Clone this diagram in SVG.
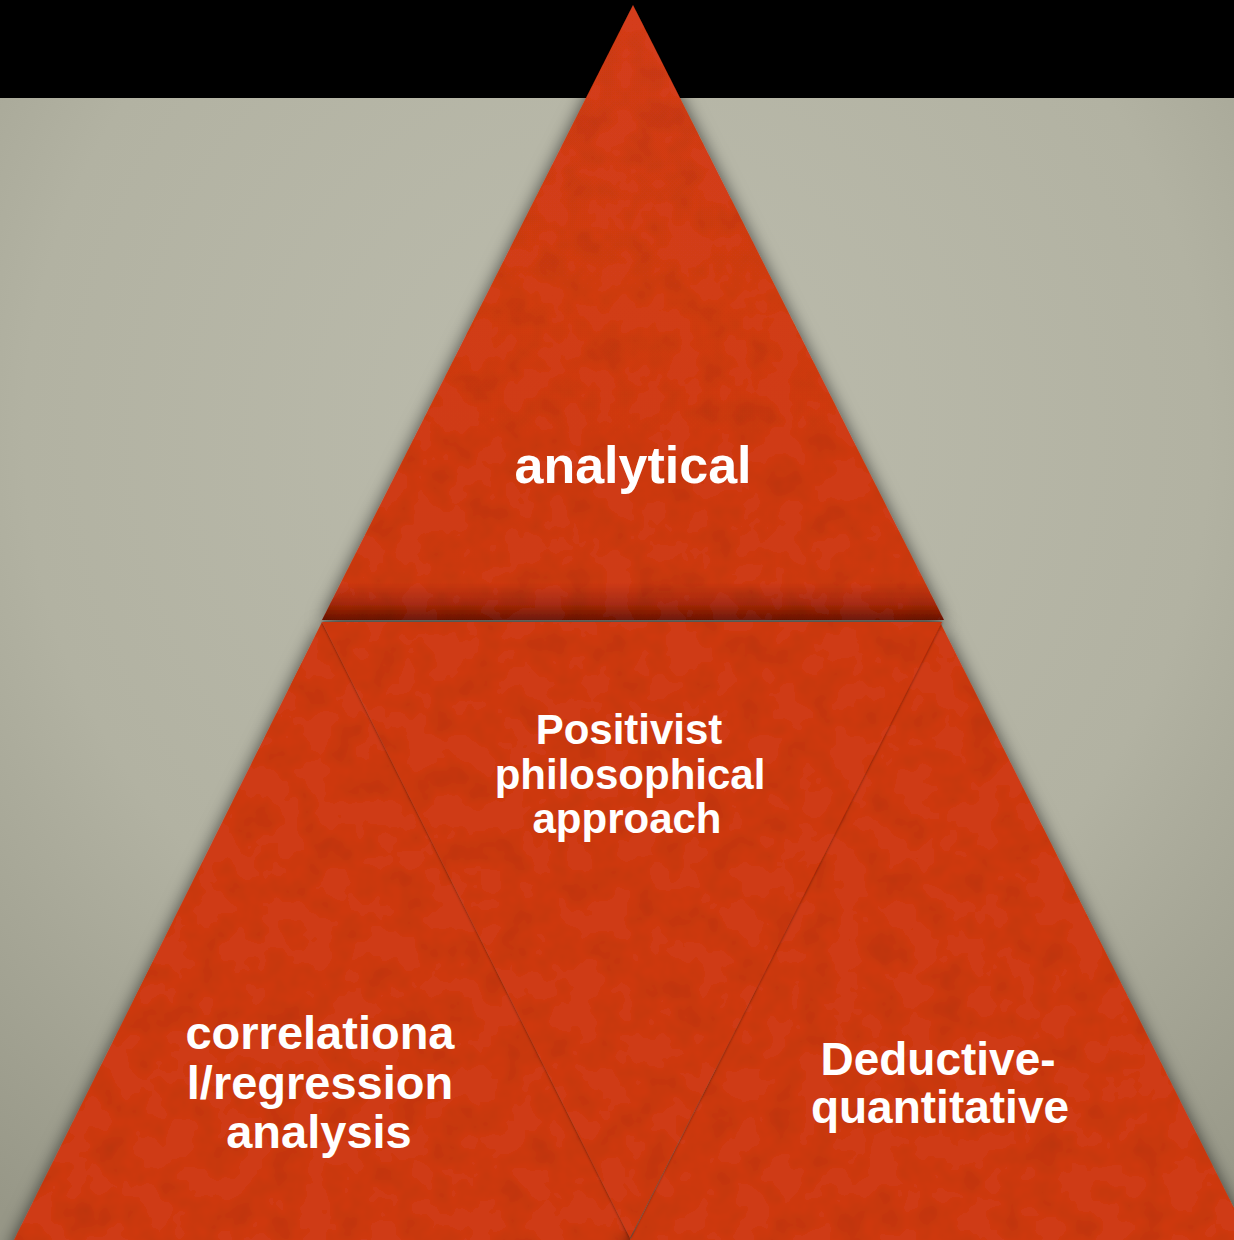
<svg xmlns="http://www.w3.org/2000/svg" width="1234" height="1240" viewBox="0 0 1234 1240">
  <style>
    .label { font-family: "Liberation Sans", Arial, sans-serif; font-weight: bold; fill: #ffffff; text-anchor: middle; }
    .tri { fill: #cf3a17; }
  </style>
  <defs>
    <radialGradient id="bgVignette" cx="0.5" cy="0.35" r="0.8">
      <stop offset="0" stop-color="#bcbcad"/>
      <stop offset="0.6" stop-color="#b2b2a2"/>
      <stop offset="1" stop-color="#979787"/>
    </radialGradient>
    <linearGradient id="topFill" gradientUnits="userSpaceOnUse" x1="0" y1="5" x2="0" y2="620">
      <stop offset="0" stop-color="#d43e1a"/>
      <stop offset="0.94" stop-color="#ce3a18"/>
      <stop offset="0.975" stop-color="#a52b12"/>
      <stop offset="1" stop-color="#6e190b"/>
    </linearGradient>
    <!-- soft drop shadow plus faint paper grain -->
    <filter id="shadow" x="-10%" y="-10%" width="120%" height="120%">
      <feGaussianBlur in="SourceAlpha" stdDeviation="9" result="blur"/>
      <feOffset in="blur" dx="0" dy="3" result="off"/>
      <feFlood flood-color="#000" flood-opacity="0.7"/>
      <feComposite in2="off" operator="in" result="sh"/>
      <feTurbulence type="fractalNoise" baseFrequency="0.03" numOctaves="3" seed="7" result="noise"/>
      <feColorMatrix in="noise" type="matrix" values="0 0 0 0 0  0 0 0 0 0  0 0 0 0 0  0 0 0 -0.35 0.2" result="grain"/>
      <feComposite in="grain" in2="SourceAlpha" operator="in" result="grainIn"/>
      <feMerge>
        <feMergeNode in="sh"/>
        <feMergeNode in="SourceGraphic"/>
        <feMergeNode in="grainIn"/>
      </feMerge>
    </filter>
    <!-- thin dark seam plus grain -->
    <filter id="edgeLine" x="-5%" y="-5%" width="110%" height="110%">
      <feGaussianBlur in="SourceAlpha" stdDeviation="1.5" result="b"/>
      <feFlood flood-color="#000" flood-opacity="0.6"/>
      <feComposite in2="b" operator="in" result="sh"/>
      <feTurbulence type="fractalNoise" baseFrequency="0.03" numOctaves="3" seed="3" result="noise"/>
      <feColorMatrix in="noise" type="matrix" values="0 0 0 0 0  0 0 0 0 0  0 0 0 0 0  0 0 0 -0.35 0.2" result="grain"/>
      <feComposite in="grain" in2="SourceAlpha" operator="in" result="grainIn"/>
      <feMerge>
        <feMergeNode in="sh"/>
        <feMergeNode in="SourceGraphic"/>
        <feMergeNode in="grainIn"/>
      </feMerge>
    </filter>
  </defs>

  <!-- backdrop -->
  <rect x="0" y="0" width="1234" height="1240" fill="url(#bgVignette)"/>
  <rect x="0" y="0" width="1234" height="98" fill="#000000"/>

  <!-- top triangle -->
  <g id="node-analytical">
    <polygon points="633,5 322,620 944,620" fill="url(#topFill)" filter="url(#shadow)"/>
    <text class="label" x="633" y="483" font-size="52">analytical</text>
  </g>

  <!-- lower-left triangle -->
  <g id="node-correlational">
    <polygon class="tri" points="322,622 8,1252 637,1252" filter="url(#shadow)"/>
    <text class="label" x="320" y="1049" font-size="47">correlationa</text>
    <text class="label" x="320" y="1099" font-size="47">l/regression</text>
    <text class="label" x="319" y="1148" font-size="47">analysis</text>
  </g>

  <!-- lower-right triangle -->
  <g id="node-deductive">
    <polygon class="tri" points="940,622 624,1252 1256,1252" filter="url(#shadow)"/>
    <text class="label" x="938" y="1075" font-size="46">Deductive-</text>
    <text class="label" x="940" y="1123" font-size="46">quantitative</text>
  </g>

  <!-- centre inverted triangle -->
  <g id="node-positivist">
    <polygon class="tri" points="322,622 942,622 630,1238" filter="url(#edgeLine)"/>
    <text class="label" x="629" y="744" font-size="42">Positivist</text>
    <text class="label" x="630" y="789" font-size="42">philosophical</text>
    <text class="label" x="627" y="833" font-size="42">approach</text>
  </g>
</svg>
